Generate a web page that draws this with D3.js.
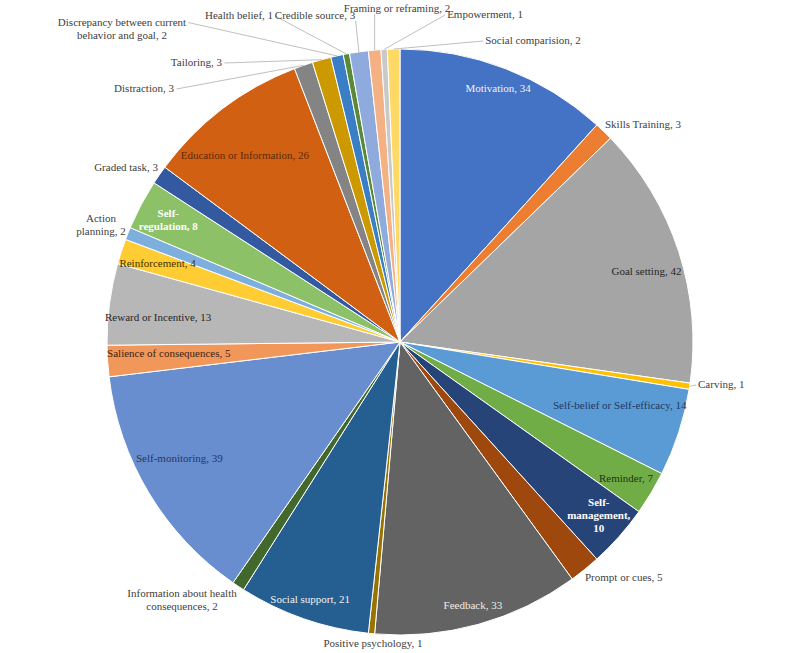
<!DOCTYPE html>
<html>
<head>
<meta charset="utf-8">
<script src="https://cdn.jsdelivr.net/npm/d3@7"></script>
<style>
    body { margin: 0; background: #fff; }
    svg text { font-family: "Liberation Serif", "DejaVu Serif", serif; font-size: 11px; }
</style>
</head>
<body>
<svg id="chart" width="800" height="653"></svg>
<script>

const categories = [
    'Motivation', 'Skills Training', 'Goal setting', 'Carving',
    'Self-belief or Self-efficacy', 'Reminder', 'Self-management', 'Prompt or cues',
    'Feedback', 'Positive psychology', 'Social support', 'Information about health consequences',
    'Self-monitoring', 'Salience of consequences', 'Reward or Incentive', 'Reinforcement',
    'Action planning', 'Self-regulation', 'Graded task', 'Education or Information',
    'Distraction', 'Tailoring', 'Discrepancy between current behavior and goal', 'Health belief',
    'Credible source', 'Framing or reframing', 'Empowerment', 'Social comparision'
]

const counts = [
    34, 3, 42, 1,
    14, 7, 10, 5,
    33, 1, 21, 2,
    39, 5, 13, 4,
    2, 8, 3, 26,
    3, 3, 2, 1,
    3, 2, 1, 2
]

const sliceColors = [
    '#4472C4', '#ED7D31', '#A5A5A5', '#FFC000', '#5B9BD5', '#70AD47',
    '#264478', '#9E480E', '#636363', '#997300', '#255E91', '#43682B',
    '#698ED0', '#F1975A', '#B7B7B7', '#FFCD33', '#7CAFDD', '#8CC168',
    '#335AA1', '#D26012', '#848484', '#CC9A00', '#3A7EC6', '#5A8A39',
    '#8FAADC', '#F4B183', '#C9C9C9', '#FFD966'
]

// labels drawn inside the slice: radial position as a share of the radius, da = angle nudge in degrees
const insideLabels = {
    'Motivation':                 { k: 0.93, ink: '#F2F2F2' },
    'Goal setting':               { k: 0.875, da: 2, ink: '#262626' },
    'Self-belief or Self-efficacy': { k: 0.78, da: -2, ink: '#1F3864' },
    'Reminder':                   { k: 0.90, ink: '#22331A' },
    'Self-management':            { k: 0.90, da: -0.5, ink: '#FFFFFF', bold: true, lines: ['Self-', 'management,', '10'] },
    'Feedback':                   { k: 0.93, ink: '#EDEDED' },
    'Social support':             { k: 0.93, ink: '#F2F2F2' },
    'Self-monitoring':            { k: 0.85, da: 3.4, ink: '#1F3864' },
    'Salience of consequences':   { k: 0.79, da: 1, ink: '#3B2314' },
    'Reward or Incentive':        { k: 0.83, da: -1.5, ink: '#262626' },
    'Reinforcement':              { k: 0.87, ink: '#3F3000' },
    'Self-regulation':            { k: 0.895, ink: '#FFFFFF', bold: true, lines: ['Self-', 'regulation, 8'] },
    'Education or Information':   { k: 0.83, da: -2.4, ink: '#5C2A08' }
}

// labels outside the pie: offset of the text block from the centre, plus leader side
const outsideLabels = {
    'Skills Training':      { dx: 205, dy: -218, anchor: 'start' },
    'Carving':              { dx: 298, dy: 42, anchor: 'start', lead: 'left' },
    'Prompt or cues':       { dx: 185, dy: 235, anchor: 'start' },
    'Positive psychology':  { dx: -27, dy: 301, anchor: 'middle' },
    'Information about health consequences': { dx: -218, dy: 257, anchor: 'middle', lines: ['Information about health', 'consequences, 2'] },
    'Graded task':          { dx: -242, dy: -175, anchor: 'end' },
    'Action planning':      { dx: -299, dy: -118, anchor: 'middle', lines: ['Action', 'planning, 2'] },
    'Distraction':          { dx: -226, dy: -254, anchor: 'end', lead: 'right' },
    'Tailoring':            { dx: -178, dy: -280, anchor: 'end', lead: 'right' },
    'Discrepancy between current behavior and goal': { dx: -278, dy: -314, anchor: 'middle', lead: 'right', lines: ['Discrepancy between current', 'behavior and goal, 2'] },
    'Health belief':        { dx: -161, dy: -327, anchor: 'middle', lead: 'right' },
    'Credible source':      { dx: -85, dy: -327, anchor: 'middle', lead: 'below' },
    'Framing or reframing': { dx: -3, dy: -334, anchor: 'middle', lead: 'below' },
    'Empowerment':          { dx: 85, dy: -328, anchor: 'middle', lead: 'left' },
    'Social comparision':   { dx: 133, dy: -302, anchor: 'middle', lead: 'left' }
}

const cx = 400
const cy = 342
const radius = 293
const lineHeight = 13

const svg = d3.select('#chart')
const g = svg.append('g').attr('transform', `translate(${cx},${cy})`)

const slices = categories.map((name, i) => ({ name: name, value: counts[i], color: sliceColors[i] }))

const pie = d3.pie().sort(null).value(d => d.value)
const arc = d3.arc().innerRadius(0).outerRadius(radius)
const arcs = pie(slices)

g.selectAll('path.slice')
    .data(arcs)
    .join('path')
    .attr('class', 'slice')
    .attr('d', arc)
    .attr('fill', d => d.data.color)
    .attr('stroke', '#fff')
    .attr('stroke-width', 1)

const midAngle = d => (d.startAngle + d.endAngle) / 2
const polar = (a, r) => [Math.sin(a) * r, -Math.cos(a) * r]

function writeLines(sel, lines){
    lines.forEach((line, i) => {
        sel.append('tspan')
            .attr('x', 0)
            .attr('dy', i === 0 ? `${-(lines.length - 1) * lineHeight / 2 + 4}px` : `${lineHeight}px`)
            .text(line)
    })
}

const labelLayer = g.append('g')
const leadLayer = g.insert('g', 'g')

arcs.forEach(d => {
    const name = d.data.name
    const defaultText = `${name}, ${d.data.value}`

    if (insideLabels[name]){
        const opt = insideLabels[name]
        const a = midAngle(d) + (opt.da || 0) * Math.PI / 180
        const [x, y] = polar(a, radius * opt.k)
        const t = labelLayer.append('text')
            .attr('transform', `translate(${x},${y})`)
            .attr('text-anchor', 'middle')
            .attr('fill', opt.ink)
            .attr('font-weight', opt.bold ? 'bold' : 'normal')
        writeLines(t, opt.lines || [defaultText])
        return
    }

    const opt = outsideLabels[name]
    if (!opt) return

    const t = labelLayer.append('text')
        .attr('transform', `translate(${opt.dx},${opt.dy})`)
        .attr('text-anchor', opt.anchor)
        .attr('fill', '#404040')
    writeLines(t, opt.lines || [defaultText])

    if (!opt.lead) return

    const box = t.node().getBBox()
    const left = opt.dx + box.x
    const right = left + box.width
    const top = opt.dy + box.y
    const [ax, ay] = polar(midAngle(d), radius)

    let start
    if (opt.lead === 'left'){
        start = [left - 2, top + 7]
    } else if (opt.lead === 'right'){
        start = [right + 2, top + 7]
    } else {
        start = [Math.max(left, Math.min(right, ax)), top + box.height]
    }

    leadLayer.append('line')
        .attr('x1', start[0]).attr('y1', start[1])
        .attr('x2', ax).attr('y2', ay)
        .attr('stroke', '#BFBFBF')
        .attr('stroke-width', 1)
})

</script>
</body>
</html>
